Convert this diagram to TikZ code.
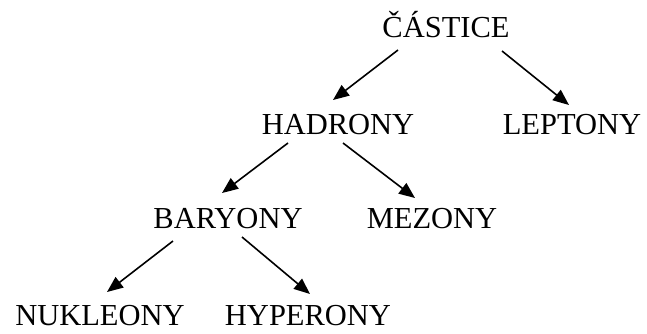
\documentclass[tikz,border=0pt]{standalone}
\usepackage{fontspec}
\setmainfont{Liberation Serif}
\usetikzlibrary{arrows.meta}
\begin{document}
\begin{tikzpicture}[x=1pt, y=-1pt, font=\fontsize{30.5}{36}\selectfont, line join=round, >={Triangle[length=16pt,width=13pt]},
 lbl/.style={anchor=base, inner sep=0pt}, arr/.style={->, line width=1.6pt}]
 \useasboundingbox (0,0) rectangle (647,333);
 \node[lbl] (castice) at (446,37) {ČÁSTICE};
 \node[lbl] (hadrony) at (338,134) {HADRONY};
 \node[lbl] (leptony) at (572,134) {LEPTONY};
 \node[lbl] (baryony) at (228,228) {BARYONY};
 \node[lbl] (mezony) at (432,228) {MEZONY};
 \node[lbl] (nukleony) at (100,325) {NUKLEONY};
 \node[lbl] (hyperony) at (308,325) {HYPERONY};
 \draw[arr] ([shift={(-48,13)}]castice.base)--([shift={(-5,-34)}]hadrony.base);
 \draw[arr] ([shift={(56,14)}]castice.base)--([shift={(-3,-29)}]leptony.base);
 \draw[arr] ([shift={(-50,9)}]hadrony.base)--([shift={(-6,-35)}]baryony.base);
 \draw[arr] ([shift={(5,9)}]hadrony.base)--([shift={(-17,-30)}]mezony.base);
 \draw[arr] ([shift={(-55,13)}]baryony.base)--([shift={(7,-33)}]nukleony.base);
 \draw[arr] ([shift={(14,9)}]baryony.base)--([shift={(2,-31)}]hyperony.base);
\end{tikzpicture}
\end{document}
